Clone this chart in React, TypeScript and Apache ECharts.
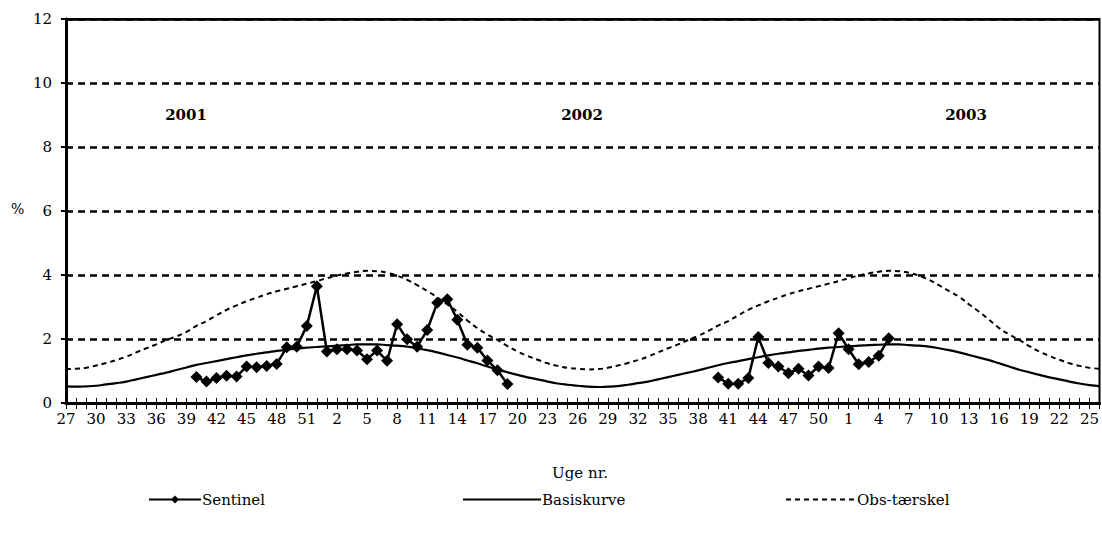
import React, { useEffect, useRef } from "react";
import * as echarts from "echarts";

// Week numbers on the category axis: 2001 w27-52, 2002 w1-52, 2003 w1-26
const weeks2001 = [27, 28, 29, 30, 31, 32, 33, 34, 35, 36, 37, 38, 39, 40, 41, 42, 43, 44, 45, 46, 47, 48, 49, 50, 51, 52];
const weeks2002 = [1, 2, 3, 4, 5, 6, 7, 8, 9, 10, 11, 12, 13, 14, 15, 16, 17, 18, 19, 20, 21, 22, 23, 24, 25, 26, 27, 28, 29, 30, 31, 32, 33, 34, 35, 36, 37, 38, 39, 40, 41, 42, 43, 44, 45, 46, 47, 48, 49, 50, 51, 52];
const weeks2003 = [1, 2, 3, 4, 5, 6, 7, 8, 9, 10, 11, 12, 13, 14, 15, 16, 17, 18, 19, 20, 21, 22, 23, 24, 25, 26];

const yearLabels = ["2001", "2002", "2003"];
const yTicks = [0, 2, 4, 6, 8, 10, 12];

// Sentinel: season 1 from 2001 w40 to 2002 w19
const sentinelSeason1 = [
  0.81, 0.67, 0.78, 0.85, 0.83, 1.14, 1.12, 1.16, 1.22, 1.74, 1.76, 2.41, 3.65,
  1.61, 1.68, 1.68, 1.64, 1.37, 1.64, 1.32, 2.46, 1.99, 1.76, 2.28, 3.13, 3.24, 2.6, 1.82, 1.73, 1.33, 1.02, 0.59,
];
const sentinelSeason1Start = "2001-40";
// Sentinel: season 2 from 2002 w40 to 2003 w5
const sentinelSeason2 = [
  0.8, 0.6, 0.6, 0.78, 2.06, 1.25, 1.14, 0.93, 1.07, 0.86, 1.14, 1.09, 2.18,
  1.68, 1.21, 1.28, 1.48, 2.02,
];
const sentinelSeason2Start = "2002-40";

// Basiskurve (2001 w27 ... 2003 w26)
const basiskurve = [
  0.52, 0.51, 0.52, 0.54, 0.58, 0.62, 0.67, 0.74, 0.81, 0.88, 0.95, 1.03, 1.11,
  1.19, 1.25, 1.31, 1.37, 1.43, 1.49, 1.54, 1.58, 1.63, 1.66, 1.7, 1.73, 1.75,
  1.77, 1.79, 1.81, 1.83, 1.83, 1.83, 1.81, 1.79, 1.76, 1.71, 1.65, 1.58, 1.5,
  1.42, 1.33, 1.24, 1.14, 1.05, 0.96, 0.88, 0.8, 0.74, 0.67, 0.61, 0.57, 0.54,
  0.51, 0.5, 0.51, 0.53, 0.57, 0.62, 0.67, 0.74, 0.81, 0.88, 0.95, 1.02, 1.1,
  1.18, 1.25, 1.31, 1.37, 1.43, 1.49, 1.54, 1.58, 1.63, 1.66, 1.7, 1.73, 1.75,
  1.77, 1.79, 1.81, 1.82, 1.83, 1.83, 1.81, 1.79, 1.76, 1.71, 1.65, 1.58, 1.5,
  1.42, 1.34, 1.24, 1.14, 1.04, 0.96, 0.88, 0.8, 0.74, 0.67, 0.61, 0.56, 0.53,
];

// Obs-tærskel (2001 w27 ... 2003 w26)
const obsTaerskel = [
  1.06, 1.07, 1.1, 1.17, 1.25, 1.34, 1.45, 1.58, 1.71, 1.83, 1.97, 2.08, 2.22,
  2.41, 2.56, 2.74, 2.91, 3.05, 3.18, 3.29, 3.4, 3.49, 3.57, 3.65, 3.73, 3.81,
  3.9, 3.98, 4.05, 4.1, 4.13, 4.12, 4.07, 3.98, 3.85, 3.68, 3.5, 3.3, 3.08,
  2.85, 2.58, 2.34, 2.14, 1.97, 1.78, 1.61, 1.47, 1.35, 1.24, 1.16, 1.1, 1.07,
  1.05, 1.06, 1.1, 1.17, 1.25, 1.34, 1.45, 1.58, 1.71, 1.83, 1.97, 2.1, 2.25,
  2.42, 2.56, 2.74, 2.91, 3.05, 3.18, 3.29, 3.4, 3.49, 3.57, 3.65, 3.73, 3.81,
  3.9, 3.98, 4.05, 4.1, 4.13, 4.12, 4.07, 3.98, 3.85, 3.68, 3.5, 3.32, 3.08,
  2.85, 2.6, 2.34, 2.14, 1.97, 1.78, 1.61, 1.47, 1.35, 1.24, 1.16, 1.1, 1.07,
];

const FONT = "'DejaVu Serif', serif";

export default function App() {
  const ref = useRef<HTMLDivElement>(null);

  useEffect(() => {
    if (!ref.current) return;
    const chart = echarts.init(ref.current, null, { renderer: "svg" });

    const keys: string[] = [
      ...weeks2001.map((w) => "2001-" + w),
      ...weeks2002.map((w) => "2002-" + w),
      ...weeks2003.map((w) => "2003-" + w),
    ];
    const labels: string[] = [...weeks2001, ...weeks2002, ...weeks2003].map(String);

    const sentinel: (number | null)[] = keys.map(() => null);
    const s1 = keys.indexOf(sentinelSeason1Start);
    sentinelSeason1.forEach((v, i) => (sentinel[s1 + i] = v));
    const s2 = keys.indexOf(sentinelSeason2Start);
    sentinelSeason2.forEach((v, i) => (sentinel[s2 + i] = v));

    const textBase = { fontFamily: FONT, fontSize: 15, color: "#000" };
    const yMax = yTicks[yTicks.length - 1];

    chart.setOption({
      animation: false,
      backgroundColor: "#fff",
      grid: {
        left: 66,
        right: 2,
        top: 19,
        bottom: 136,
        show: true,
        borderColor: "#000",
        borderWidth: 2,
        backgroundColor: "transparent",
      },
      xAxis: [
        {
          type: "category",
          data: labels,
          boundaryGap: false,
          axisLine: { lineStyle: { color: "#000", width: 3 } },
          axisTick: { show: true, inside: false, length: 6, interval: 0, lineStyle: { color: "#000", width: 1 } },
          axisLabel: { interval: 2, margin: 8, ...textBase },
          splitLine: { show: false },
        },
        {
          type: "category",
          data: labels,
          boundaryGap: false,
          position: "bottom",
          axisLine: { show: true, lineStyle: { color: "#000", width: 3 } },
          axisTick: { show: true, inside: true, length: 5, interval: 0, lineStyle: { color: "#000", width: 1 } },
          axisLabel: { show: false },
          splitLine: { show: false },
        },
      ],
      yAxis: {
        type: "value",
        min: yTicks[0],
        max: yMax,
        interval: 2,
        axisLine: { show: true, lineStyle: { color: "#000", width: 3 } },
        axisTick: { show: true, length: 5, lineStyle: { color: "#000", width: 2 } },
        axisLabel: { margin: 14, ...textBase },
        splitLine: { show: true, lineStyle: { color: "#000", width: 2.5, type: [7, 5] } },
      },
      legend: [
        {
          data: ["Sentinel"],
          left: 148,
          top: 492,
          padding: 0,
          itemWidth: 52,
          itemHeight: 10,
          textStyle: { ...textBase, padding: [0, 0, 0, -4] },
          selectedMode: false,
        },
        {
          data: ["Basiskurve"],
          left: 462,
          top: 492,
          padding: 0,
          itemWidth: 78,
          itemHeight: 10,
          itemStyle: { opacity: 0 },
          textStyle: { ...textBase, padding: [0, 0, 0, -4] },
          selectedMode: false,
        },
        {
          data: ["Obs-tærskel"],
          left: 785,
          top: 492,
          padding: 0,
          itemWidth: 70,
          itemHeight: 10,
          itemStyle: { opacity: 0 },
          textStyle: { ...textBase, padding: [0, 0, 0, -4] },
          selectedMode: false,
        },
      ],
      graphic: [
        { type: "text", left: 11, top: 202, style: { text: "%", font: "14px " + FONT, fill: "#000" } },
        {
          type: "text",
          x: 580,
          y: 473,
          style: { text: "Uge nr.", font: "15px " + FONT, fill: "#000", align: "center", verticalAlign: "middle" },
        },
        {
          type: "text",
          x: 186,
          y: 115,
          style: { text: yearLabels[0], font: "bold 15px " + FONT, fill: "#000", align: "center", verticalAlign: "middle" },
        },
        {
          type: "text",
          x: 582,
          y: 115,
          style: { text: yearLabels[1], font: "bold 15px " + FONT, fill: "#000", align: "center", verticalAlign: "middle" },
        },
        {
          type: "text",
          x: 966,
          y: 115,
          style: { text: yearLabels[2], font: "bold 15px " + FONT, fill: "#000", align: "center", verticalAlign: "middle" },
        },
      ],
      series: [
        {
          name: "Obs-tærskel",
          type: "line",
          data: obsTaerskel,
          smooth: true,
          symbol: "none",
          lineStyle: { color: "#000", width: 2, type: [5, 4] },
          itemStyle: { color: "#000" },
          z: 2,
        },
        {
          name: "Basiskurve",
          type: "line",
          data: basiskurve,
          smooth: true,
          symbol: "none",
          lineStyle: { color: "#000", width: 2.2 },
          itemStyle: { color: "#000" },
          z: 3,
          markLine: {
            silent: true,
            symbol: ["none", "none"],
            label: { show: false },
            lineStyle: { color: "#000", width: 2.5, type: "solid" },
            data: [{ yAxis: yMax }],
          },
        },
        {
          name: "Sentinel",
          type: "line",
          data: sentinel,
          connectNulls: false,
          symbol: "diamond",
          symbolSize: 12,
          showSymbol: true,
          showAllSymbol: true,
          lineStyle: { color: "#000", width: 2.5 },
          itemStyle: { color: "#000" },
          z: 4,
        },
      ],
    });

    return () => chart.dispose();
  }, []);

  return (
    <div
      ref={ref}
      style={{ position: "fixed", left: 0, top: 0, width: 1102, height: 539, background: "#fff" }}
    />
  );
}
